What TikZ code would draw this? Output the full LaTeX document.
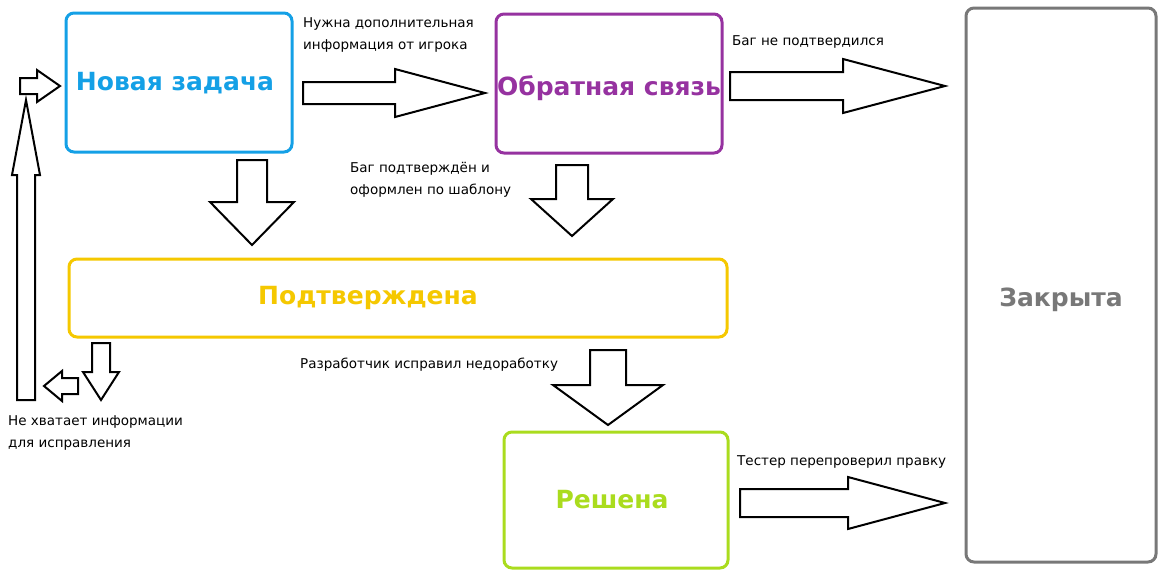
\documentclass[tikz,border=0pt]{standalone}
\usepackage{fontspec}
\setmainfont{DejaVu Sans}
\definecolor{cblue}{RGB}{20,160,230}
\definecolor{cpurple}{RGB}{150,50,160}
\definecolor{cgray}{RGB}{120,120,120}
\definecolor{cgold}{RGB}{245,200,0}
\definecolor{clime}{RGB}{170,220,30}
\newcommand\RArr[6]{\draw[blockarrow] (#1,#3-#4) -- (#6,#3-#4) -- (#6,#3-#5) -- (#2,#3) -- (#6,#3+#5) -- (#6,#3+#4) -- (#1,#3+#4) -- cycle;}
\newcommand\DArr[6]{\draw[blockarrow] (#3-#4,#1) -- (#3-#4,#6) -- (#3-#5,#6) -- (#3,#2) -- (#3+#5,#6) -- (#3+#4,#6) -- (#3+#4,#1) -- cycle;}
\begin{document}
\begin{tikzpicture}[x=1pt,y=-1pt,
  stbox/.style={draw,line width=3pt,rounded corners=8pt,fill=white},
  title/.style={font=\bfseries\fontsize{25}{28}\selectfont},
  lbl/.style={font=\fontsize{13.5}{22}\selectfont,align=left,anchor=north west,inner sep=0pt},
  blockarrow/.style={draw=black,line width=2pt,fill=white,line join=miter}]
\useasboundingbox (0,0) rectangle (1171,576);
\draw[stbox,draw=cblue] (66,13) rectangle (292,152);
\node[title,text=cblue] (n) at (175,83) {Новая задача};
\draw[stbox,draw=cpurple] (496,14) rectangle (722,153);
\node[title,text=cpurple] (f) at (609,88) {Обратная связь};
\draw[stbox,draw=cgray] (966,8) rectangle (1156,562);
\node[title,text=cgray] (c) at (1061,300) {Закрыта};
\draw[stbox,draw=cgold] (69,259) rectangle (727,337);
\node[title,text=cgold] (p) at (368,298) {Подтверждена};
\draw[stbox,draw=clime] (504,432) rectangle (728,568);
\node[title,text=clime] (r) at (612,500) {Решена};
\RArr{303}{485}{93}{11}{24}{395}
\RArr{730}{945}{86}{14}{27}{843}
\RArr{740}{945}{503}{14}{26}{848}
\RArr{20}{60}{86}{8}{16}{37}
\RArr{78}{44}{386}{8}{15}{62}
\DArr{160}{245}{252}{15}{42}{202}
\DArr{165}{236}{572}{16}{41}{199}
\DArr{350}{425}{608}{18}{55}{385}
\DArr{343}{400}{101}{9}{18}{372}
\DArr{400}{100}{26}{9}{14}{175}
\node[lbl] (l1) at (303,17) {Нужна дополнительная\\информация от игрока};
\node[lbl] (l2) at (732,35) {Баг не подтвердился};
\node[lbl] (l3) at (350,162) {Баг подтверждён и\\оформлен по шаблону};
\node[lbl] (l4) at (300,358) {Разработчик исправил недоработку};
\node[lbl] (l5) at (8,415) {Не хватает информации\\для исправления};
\node[lbl] (l6) at (737,455) {Тестер перепроверил правку};
\end{tikzpicture}
\end{document}
